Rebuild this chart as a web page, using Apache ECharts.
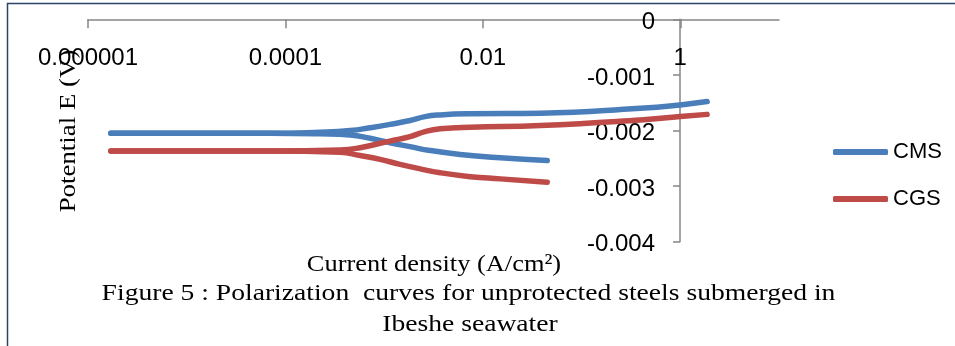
<!DOCTYPE html>
<html>
<head>
<meta charset="utf-8">
<script src="https://cdn.jsdelivr.net/npm/echarts@6/dist/echarts.min.js"></script>
<style>
  html, body { margin: 0; padding: 0; background: #ffffff; }
  #chart { width: 955px; height: 346px; }
</style>
</head>
<body>
<div id="chart"></div>
<script>
// ---- Data (current density in A/cm², potential in V) ----
const cmsCathodicX = [0.0000017, 0.0000136, 0.00007, 0.000224, 0.000452, 0.000721, 0.00115, 0.00183, 0.00292, 0.00589, 0.015, 0.0449];
const cmsCathodicY = [-0.00205, -0.00205, -0.00205, -0.00206, -0.00208, -0.00214, -0.00222, -0.00229, -0.00236, -0.00243, -0.00249, -0.00254];
const cmsAnodicX   = [0.0000017, 0.0000136, 0.00007, 0.000224, 0.000452, 0.000721, 0.00115, 0.00183, 0.0026, 0.00369, 0.00745, 0.0381, 0.393, 1, 1.87];
const cmsAnodicY   = [-0.00205, -0.00205, -0.00205, -0.00203, -0.00200, -0.00195, -0.00189, -0.00182, -0.00175, -0.00172, -0.00170, -0.00169, -0.00160, -0.00154, -0.00148];

const cgsCathodicX = [0.0000017, 0.0000136, 0.00007, 0.000358, 0.000571, 0.00091, 0.00145, 0.00232, 0.00369, 0.00745, 0.015, 0.0449];
const cgsCathodicY = [-0.00237, -0.00237, -0.00237, -0.00239, -0.00245, -0.00252, -0.00261, -0.00269, -0.00276, -0.00283, -0.00287, -0.00293];
const cgsAnodicX   = [0.0000017, 0.0000136, 0.00007, 0.000358, 0.000571, 0.00091, 0.00129, 0.00183, 0.0026, 0.00369, 0.00745, 0.0381, 0.393, 1, 1.87];
const cgsAnodicY   = [-0.00237, -0.00237, -0.00237, -0.00235, -0.00231, -0.00223, -0.00217, -0.00211, -0.00202, -0.00197, -0.00194, -0.00191, -0.00181, -0.00175, -0.00171];

const xTickValues = [0.000001, 0.0001, 0.01, 1];
const xTickLabels = ['0.000001', '0.0001', '0.01', '1'];
const yTickLabels = ['-0.004', '-0.003', '-0.002', '-0.001', '0'];
const seriesNames = ['CMS', 'CGS'];
const seriesColors = ['#4A7EBB', '#BE4B48'];

const pairs = (xs, ys) => xs.map((x, i) => [x, ys[i]]);

const chart = echarts.init(document.getElementById('chart'), null, { renderer: 'canvas' });

function branch(name, color, data) {
  return {
    name: name,
    type: 'line',
    data: data,
    smooth: 0.5,
    symbol: 'none',
    lineStyle: { color: color, width: 5.5, cap: 'round', join: 'round' },
    itemStyle: { color: color },
    z: 3
  };
}

const serif = '"Liberation Serif", "Times New Roman", serif';
const sans = '"Liberation Sans", Arial, sans-serif';

const option = {
  backgroundColor: '#ffffff',
  animation: false,
  grid: { left: 88, top: 19.3, width: 691, height: 222.4, containLabel: false },
  xAxis: {
    type: 'log',
    logBase: 10,
    min: 0.000001,
    max: 10,
    position: 'top',
    axisLine: { show: true, lineStyle: { color: '#868686', width: 1.5 } },
    axisTick: { show: true, inside: true, length: 9, customValues: xTickValues, lineStyle: { color: '#868686', width: 1.5 } },
    minorTick: { show: false },
    splitLine: { show: false },
    axisLabel: {
      inside: true,
      margin: 27,
      customValues: xTickValues,
      fontFamily: sans,
      fontSize: 24,
      color: '#000000',
      verticalAlign: 'top',
      formatter: function (v) {
        const e = Math.round(Math.log10(v));
        for (let i = 0; i < xTickValues.length; i++) {
          if (Math.round(Math.log10(xTickValues[i])) === e) return xTickLabels[i];
        }
        return '';
      }
    }
  },
  yAxis: {
    type: 'value',
    min: -0.004,
    max: 0,
    interval: 0.001,
    position: 'right',
    offset: -99,
    axisLine: { show: true, lineStyle: { color: '#868686', width: 1.5 } },
    axisTick: { show: true, inside: true, length: 7, lineStyle: { color: '#868686', width: 1.5 } },
    splitLine: { show: false },
    axisLabel: {
      inside: true,
      margin: 25,
      verticalAlign: 'top',
      lineHeight: 6,
      fontFamily: sans,
      fontSize: 24,
      color: '#000000',
      formatter: function (v) {
        const idx = Math.round((v + 0.004) / 0.001);
        return yTickLabels[idx] !== undefined ? yTickLabels[idx] : '';
      }
    }
  },
  legend: {
    data: seriesNames,
    orient: 'vertical',
    left: 833,
    top: 140,
    padding: 0,
    itemWidth: 55,
    itemHeight: 6,
    itemGap: 23,
    icon: 'roundRect',
    textStyle: { fontFamily: sans, fontSize: 22, color: '#000000', lineHeight: 24, padding: [0, 0, 0, 0] },
    selectedMode: false
  },
  series: [
    branch(seriesNames[0], seriesColors[0], pairs(cmsCathodicX, cmsCathodicY)),
    branch(seriesNames[0], seriesColors[0], pairs(cmsAnodicX, cmsAnodicY)),
    branch(seriesNames[1], seriesColors[1], pairs(cgsCathodicX, cgsCathodicY)),
    branch(seriesNames[1], seriesColors[1], pairs(cgsAnodicX, cgsAnodicY))
  ],
  graphic: [
    {
      type: 'rect', z: 0, silent: true,
      shape: { x: 7.5, y: 3.5, width: 1000, height: 400 },
      style: { fill: 'none', stroke: '#2b4567', lineWidth: 1.5 }
    },
    {
      type: 'text', z: 0, silent: true,
      x: 69, y: 131, rotation: Math.PI / 2, scaleX: 1.12,
      style: { text: 'Potential E (V)', font: '24px ' + serif, fill: '#000000', textAlign: 'center', textVerticalAlign: 'middle' }
    },
    {
      type: 'text', silent: true,
      x: 434, y: 265, scaleX: 1.1,
      style: { text: 'Current density (A/cm²)', font: '24px ' + serif, fill: '#000000', textAlign: 'center', textVerticalAlign: 'middle' }
    },
    {
      type: 'text', silent: true,
      x: 468.5, y: 294, scaleX: 1.15,
      style: { text: 'Figure 5 : Polarization  curves for unprotected steels submerged in', font: '24px ' + serif, fill: '#000000', textAlign: 'center', textVerticalAlign: 'middle' }
    },
    {
      type: 'text', silent: true,
      x: 470, y: 325, scaleX: 1.15,
      style: { text: 'Ibeshe seawater', font: '24px ' + serif, fill: '#000000', textAlign: 'center', textVerticalAlign: 'middle' }
    }
  ]
};

chart.setOption(option);
</script>
</body>
</html>
